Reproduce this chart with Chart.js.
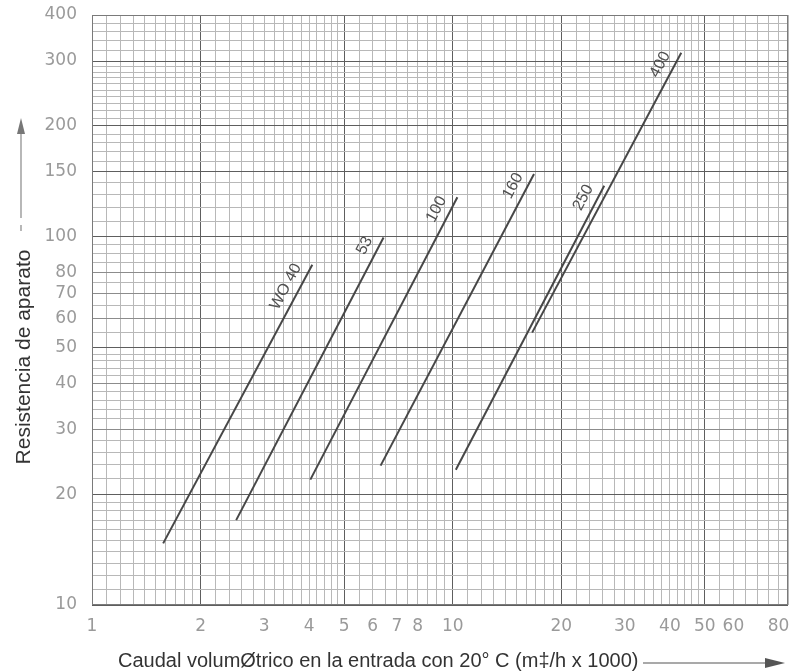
<!DOCTYPE html>
<html>
<head>
<meta charset="utf-8">
<script src="https://cdn.jsdelivr.net/npm/chart.js@4"></script>
<style>
  html, body { margin: 0; padding: 0; background: #ffffff; }
  #wrap { width: 797px; height: 671px; position: relative; }
</style>
</head>
<body>
<div id="wrap"><canvas id="c" width="797" height="671"></canvas></div>
<script>
// ---- data (log-log straight lines) ----
const meterSizes   = ['WO 40', '53', '100', '160', '250', '400'];
const flowStart    = [1.575, 2.51, 4.03, 6.31, 10.2, 16.6];
const flowEnd      = [4.08, 6.43, 10.3, 16.8, 26.3, 43.0];
const resistStart  = [14.7, 17.0, 21.9, 23.9, 23.3, 54.9];
const resistEnd    = [83.9, 99.5, 128, 148, 137.6, 316];

const xTickLabels  = [1, 2, 3, 4, 5, 6, 7, 8, 10, 20, 30, 40, 50, 60, 80];
const yTickLabels  = [10, 20, 30, 40, 50, 60, 70, 80, 100, 150, 200, 300, 400];
const xMajorLines  = [1, 2, 5, 10, 20, 50];
const yMajorLines  = [10, 20, 50, 100, 150, 200, 300];

// grid subdivisions [from, to, step]
const xGridSteps = [[1, 2, 0.1], [2, 5, 0.2], [5, 10, 0.5], [10, 20, 1], [20, 50, 2], [50, 85, 5]];
const yGridSteps = [[10, 20, 1], [20, 50, 2], [50, 100, 5], [100, 300, 10], [300, 400, 20]];

const xTitle = 'Caudal volumØtrico en la entrada con 20° C (m‡/h x 1000)';
const yTitle = 'Resistencia de aparato';

function buildGrid(steps) {
  const s = new Set();
  steps.forEach(([a, b, st]) => {
    for (let v = a; v <= b + 1e-9; v += st) s.add(Math.round(v * 100) / 100);
  });
  return [...s].sort((p, q) => p - q);
}
const xGrid = buildGrid(xGridSteps);
const yGrid = buildGrid(yGridSteps);
const has = (arr, v) => arr.some(a => Math.abs(a - v) < 1e-6);

const datasets = meterSizes.map((name, i) => ({
  label: name,
  data: [{ x: flowStart[i], y: resistStart[i] }, { x: flowEnd[i], y: resistEnd[i] }],
  showLine: true,
  borderColor: '#474747',
  borderWidth: 2,
  pointRadius: 0,
  fill: false
}));

const FONT = "'Liberation Sans', Arial, sans-serif";
const TICKFONT = "'DejaVu Sans', sans-serif";

const decorPlugin = {
  id: 'decor',
  afterDatasetsDraw(chart) {
    const ctx = chart.ctx;
    ctx.save();
    ctx.fillStyle = '#505050';
    ctx.font = '16px ' + FONT;
    ctx.textAlign = 'center';
    ctx.textBaseline = 'middle';
    chart.data.datasets.forEach((ds, i) => {
      const pts = chart.getDatasetMeta(i).data;
      const p0 = pts[0], p1 = pts[1];
      const dx = p1.x - p0.x, dy = p1.y - p0.y;
      const len = Math.hypot(dx, dy);
      const ux = dx / len, uy = dy / len;
      const nx = uy, ny = -ux;
      const w = ctx.measureText(ds.label).width;
      const d = 7 + w / 2;
      const cx = p1.x - ux * d + nx * 13;
      const cy = p1.y - uy * d + ny * 13;
      ctx.save();
      ctx.translate(cx, cy);
      ctx.rotate(Math.atan2(dy, dx));
      ctx.fillText(ds.label, 0, 0);
      ctx.restore();
    });
    ctx.restore();
  },
  afterDraw(chart) {
    const ctx = chart.ctx;
    const a = chart.chartArea;
    ctx.save();
    ctx.strokeStyle = '#7a7a7a';
    ctx.lineWidth = 1;
    ctx.strokeRect(a.left + 0.5, a.top + 0.5, a.right - a.left - 1, a.bottom - a.top - 1);

    // x title + arrow
    ctx.fillStyle = '#333';
    ctx.font = '20px ' + FONT;
    ctx.textAlign = 'left';
    ctx.textBaseline = 'alphabetic';
    ctx.fillText(xTitle, 118, 667);
    ctx.strokeStyle = '#555';
    ctx.lineWidth = 1.2;
    ctx.beginPath(); ctx.moveTo(643, 663); ctx.lineTo(772, 663); ctx.stroke();
    ctx.fillStyle = '#555';
    ctx.beginPath(); ctx.moveTo(785, 663); ctx.lineTo(765, 658); ctx.lineTo(765, 668); ctx.closePath(); ctx.fill();

    // y title + arrow
    ctx.save();
    ctx.translate(30, 357);
    ctx.rotate(-Math.PI / 2);
    ctx.fillStyle = '#333';
    ctx.font = '21px ' + FONT;
    ctx.textAlign = 'center';
    ctx.fillText(yTitle, 0, 0);
    ctx.restore();
    ctx.strokeStyle = '#888';
    ctx.lineWidth = 1.2;
    ctx.beginPath(); ctx.moveTo(21, 225); ctx.lineTo(21, 231); ctx.stroke();
    ctx.beginPath(); ctx.moveTo(21, 218); ctx.lineTo(21, 130); ctx.stroke();
    ctx.fillStyle = '#777';
    ctx.beginPath(); ctx.moveTo(21, 118); ctx.lineTo(17, 134); ctx.lineTo(25, 134); ctx.closePath(); ctx.fill();
    ctx.restore();
  }
};

function gridColor(majors, labels) {
  return (c) => {
    const v = c.tick ? c.tick.value : null;
    if (v == null) return '#b8b8b8';
    if (has(majors, v)) return '#5e5e5e';
    if (has(labels, v)) return '#8c8c8c';
    return '#b8b8b8';
  };
}

function zeroPad(s) { s.paddingTop = 0; s.paddingBottom = 0; s.paddingLeft = 0; s.paddingRight = 0; }

new Chart(document.getElementById('c'), {
  type: 'scatter',
  data: { datasets },
  options: {
    responsive: false,
    animation: false,
    events: [],
    layout: { padding: { left: 0, top: 15, right: 9, bottom: 0 } },
    plugins: { legend: { display: false }, tooltip: { enabled: false } },
    scales: {
      x: {
        type: 'logarithmic',
        min: 1, max: 85,
        afterBuildTicks: (s) => { s.ticks = xGrid.map(v => ({ value: v })); },
        afterFit: (s) => { s.height = 66; zeroPad(s); },
        ticks: {
          autoSkip: false, maxRotation: 0, minRotation: 0,
          padding: 11,
          color: '#9a9a9a',
          font: { family: TICKFONT, size: 17 },
          callback: (v) => has(xTickLabels, v) ? String(v) : ''
        },
        grid: { color: gridColor(xMajorLines, []), lineWidth: 1, drawTicks: false },
        border: { display: false }
      },
      y: {
        type: 'logarithmic',
        min: 10, max: 400,
        afterBuildTicks: (s) => { s.ticks = yGrid.map(v => ({ value: v })); },
        afterFit: (s) => { s.width = 92; zeroPad(s); },
        ticks: {
          autoSkip: false,
          padding: 15,
          color: '#9a9a9a',
          font: { family: TICKFONT, size: 17 },
          callback: (v) => has(yTickLabels, v) ? String(v) : ''
        },
        grid: { color: gridColor(yMajorLines, yTickLabels), lineWidth: 1, drawTicks: false },
        border: { display: false }
      }
    }
  },
  plugins: [decorPlugin]
});
</script>
</body>
</html>
